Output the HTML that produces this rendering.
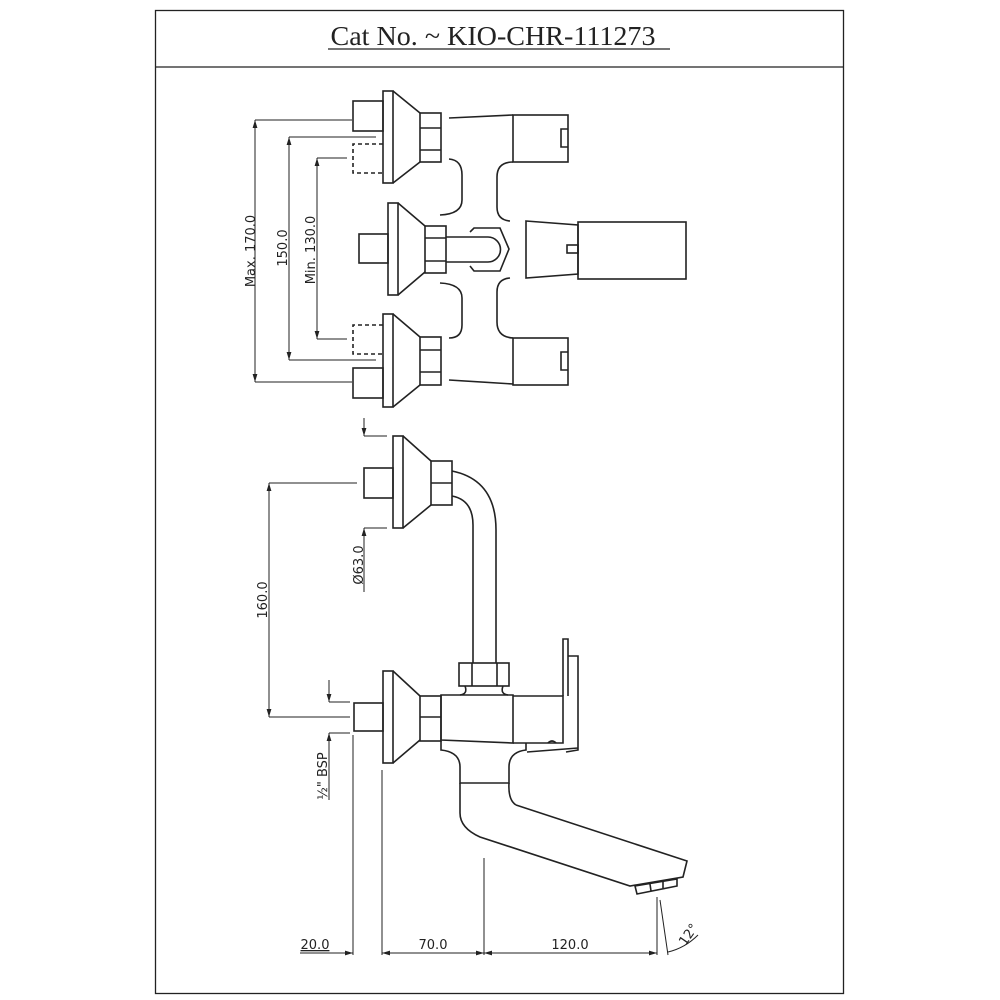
<!DOCTYPE html>
<html><head><meta charset="utf-8"><style>
html,body{margin:0;padding:0;background:#fff;}
svg{display:block;}
text{font-family:"DejaVu Sans","Liberation Sans",sans-serif;fill:#222;}
</style></head><body>
<svg width="1000" height="1000" viewBox="0 0 1000 1000" xmlns="http://www.w3.org/2000/svg">
<defs>
<marker id="a" viewBox="0 0 10 10" refX="10" refY="5" markerWidth="8" markerHeight="8" orient="auto-start-reverse" markerUnits="userSpaceOnUse"><path d="M0,2 L10,5 L0,8 z" fill="#222"/></marker>
</defs>
<g fill="none" stroke="#222" stroke-width="1.3">
<rect x="155.5" y="10.5" width="688" height="983"/>
<line x1="155" y1="67" x2="843" y2="67"/>
</g>
<text x="493" y="45" font-size="27" text-anchor="middle" style="font-family:'Liberation Serif',serif" textLength="325" lengthAdjust="spacingAndGlyphs">Cat No. ~ KIO-CHR-111273</text>
<line x1="328" y1="49" x2="670" y2="49" stroke="#222" stroke-width="1.3"/>

<g fill="none" stroke="#222" stroke-width="1.6">
<!-- TOP VIEW -->
<rect x="383" y="91" width="10" height="92"/>
<path d="M393,91 L420,113 M393,183 L420,162"/>
<rect x="420" y="113" width="21" height="49"/>
<path d="M420,128 H441 M420,150 H441"/>
<rect x="353" y="101" width="30" height="30"/>
<path d="M383,144 H353 V173 H383" stroke-dasharray="4,3"/>
<path d="M449,118 L513,115"/>
<rect x="513" y="115" width="55" height="47"/>
<path d="M568,129 H561 V147 H568"/>
<path d="M449,159 Q462,160 462,175 V200 Q462,214 440,215"/>
<path d="M513,162 Q497,162 497,177 V207 Q497,220 510,221"/>
<path d="M440,283 Q462,284 462,298 V325 Q462,338 449,338"/>
<path d="M510,278 Q497,279 497,292 V322 Q497,337 513,338"/>
<rect x="388" y="203" width="10" height="92"/>
<path d="M398,203 L425,226 M398,295 L425,272"/>
<rect x="425" y="226" width="21" height="47"/>
<path d="M425,238 H446 M425,261 H446"/>
<rect x="359" y="234" width="29" height="29"/>
<path d="M446,237 H488 A12.5,12.5 0 0 1 488,262 H446"/>
<path d="M470,232 L474,228 H500 L509,249 L500,271 H474 L470,266"/>
<path d="M526,221 L578,225 V274 L526,278 Z"/>
<rect x="578" y="222" width="108" height="57"/>
<rect x="567" y="245" width="11" height="8"/>
<rect x="383" y="314" width="10" height="93"/>
<path d="M393,314 L420,337 M393,407 L420,385"/>
<rect x="420" y="337" width="21" height="48"/>
<path d="M420,350 H441 M420,372 H441"/>
<rect x="353" y="368" width="30" height="30"/>
<path d="M383,325 H353 V354 H383" stroke-dasharray="4,3"/>
<path d="M449,380 L513,384"/>
<rect x="513" y="338" width="55" height="47"/>
<path d="M568,352 H561 V370 H568"/>
</g>
<g fill="none" stroke="#222" stroke-width="1">
<path d="M255,120 H352 M255,382 H352 M289,137 H376 M289,360 H376 M317,158 H347 M317,339 H347"/>
<line x1="255" y1="120" x2="255" y2="382" marker-start="url(#a)" marker-end="url(#a)"/>
<line x1="289" y1="137" x2="289" y2="360" marker-start="url(#a)" marker-end="url(#a)"/>
<line x1="317" y1="158" x2="317" y2="339" marker-start="url(#a)" marker-end="url(#a)"/>
</g>
<text font-size="13" text-anchor="middle" transform="translate(255,251) rotate(-90)">Max. 170.0</text>
<text font-size="13" text-anchor="middle" transform="translate(287,248) rotate(-90)">150.0</text>
<text font-size="13" text-anchor="middle" transform="translate(315,250) rotate(-90)">Min. 130.0</text>

<!-- SIDE VIEW -->
<g fill="none" stroke="#222" stroke-width="1.6">
<rect x="393" y="436" width="10" height="92"/>
<path d="M403,436 L431,461 M403,528 L431,505"/>
<rect x="431" y="461" width="21" height="44"/>
<path d="M431,483 H452"/>
<rect x="364" y="468" width="29" height="30"/>
<path d="M452,471 Q496,480 496,530 V663"/>
<path d="M452,496 Q473,500 473,525 V663"/>
<rect x="459" y="663" width="50" height="23"/>
<path d="M472,663 V686 M497,663 V686"/>
<path d="M465,686 Q468,694 460,695 M503,686 Q500,694 508,695"/>
<rect x="383" y="671" width="10" height="92"/>
<path d="M393,671 L420,696 M393,763 L420,740"/>
<rect x="420" y="696" width="21" height="45"/>
<path d="M420,717 H441"/>
<rect x="354" y="703" width="29" height="28"/>
<path d="M441,695 H513 V743 L441,740 Z"/>
<path d="M513,696 H563 V743 H513"/>
<path d="M563,696 V639 H568 V696"/>
<path d="M568,656 H578 V750 L566,752 M527,752 L578,748"/>
<path d="M548,743 Q552,739 556,743"/>
<path d="M441,741 V750 Q460,752 460,767 V783 H509 V767 Q509,752 526,750 V743"/>
<path d="M516,805 L687,861 L683,877 L630,886 L480,837 Q460,828 460,813 V783"/>
<path d="M509,783 Q508,800 516,805"/>
<path d="M635,886 L677,879 L677,886 L637,894 Z M650,884 L651,891 M663,882 L663,889"/>
</g>
<g fill="none" stroke="#222" stroke-width="1">
<path d="M364,436 H387 M364,528 H387"/>
<line x1="364" y1="418" x2="364" y2="436" marker-end="url(#a)"/>
<line x1="364" y1="592" x2="364" y2="528" marker-end="url(#a)"/>
<path d="M269,483 H357 M269,717 H350"/>
<line x1="269" y1="483" x2="269" y2="717" marker-start="url(#a)" marker-end="url(#a)"/>
<path d="M329,702 H350 M329,733 H350"/>
<line x1="329" y1="680" x2="329" y2="702" marker-end="url(#a)"/>
<line x1="329" y1="800" x2="329" y2="733" marker-end="url(#a)"/>
<path d="M353,735 V955 M382,770 V955 M484,858 V955 M657,897 V955 M660,900 L668,955"/>
<line x1="300" y1="953" x2="353" y2="953" marker-end="url(#a)"/>
<line x1="382" y1="953" x2="484" y2="953" marker-start="url(#a)" marker-end="url(#a)"/>
<line x1="484" y1="953" x2="657" y2="953" marker-start="url(#a)" marker-end="url(#a)"/>
<path d="M668,952 Q685,948 698,935"/>
</g>
<text font-size="13" text-anchor="middle" transform="translate(267,600) rotate(-90)">160.0</text>
<text font-size="13" text-anchor="middle" transform="translate(363,565) rotate(-90)">Ø63.0</text>
<text font-size="13" text-anchor="middle" transform="translate(327,776) rotate(-90)">½" BSP</text>
<text x="315" y="949" font-size="13" text-anchor="middle" text-decoration="underline">20.0</text>
<text x="433" y="949" font-size="13" text-anchor="middle">70.0</text>
<text x="570" y="949" font-size="13" text-anchor="middle">120.0</text>
<text font-size="13" text-anchor="middle" transform="translate(692,937) rotate(-55)">12°</text>
</svg>
</body></html>
